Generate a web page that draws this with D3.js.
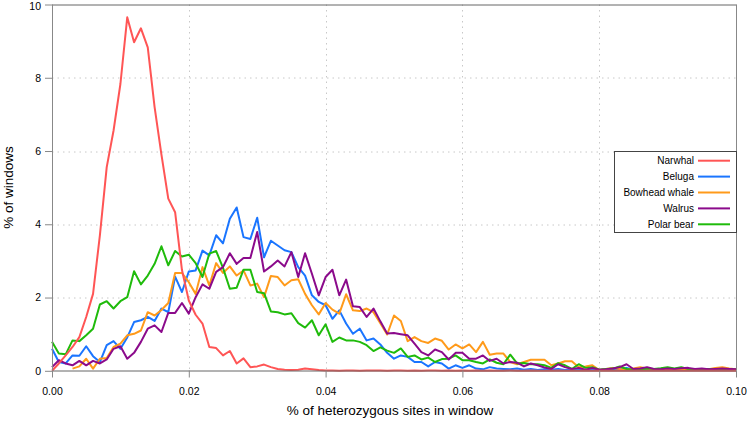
<!DOCTYPE html>
<html>
<head>
<meta charset="utf-8">
<script src="https://d3js.org/d3.v7.min.js"></script>
<style>
  body { margin: 0; background: #fff; }
  text { font-family: "Liberation Sans", Arial, sans-serif; fill: #000; }
</style>
</head>
<body>
<div id="chart"></div>
<script>
// bins of heterozygosity (% of sites), step 0.001
var bins = d3.range(0, 101).map(function(i) { return i / 1000; });

var species = ["Narwhal", "Beluga", "Bowhead whale", "Walrus", "Polar bear"];
var colors = ["#ff5555", "#1a75ff", "#ff9a1a", "#8b0a8b", "#1fbb0b"];

var narwhal = [0, 0.2, 0.42, 0.65, 0.92, 1.47, 2.1, 3.7, 5.56, 6.56,
  7.83, 9.65, 8.97, 9.35, 8.83, 7.2, 5.9, 4.7, 4.33, 2.75,
  1.92, 1.53, 1.29, 0.65, 0.62, 0.42, 0.54, 0.2, 0.34, 0.1,
  0.12, 0.17, 0.1, 0.05, 0.03, 0.02, 0.03, 0.06, 0.04, 0.02,
  0.01, 0.01, 0, 0.01, 0.01, 0, 0.01, 0.01, 0.01, 0,
  0.01, 0.01, 0, 0.01, 0, 0.01, 0.01, 0, 0.01, 0,
  0.01, 0, 0.01, 0, 0.01, 0, 0, 0.01, 0, 0,
  0.01, 0, 0, 0, 0.01, 0, 0, 0, 0, 0,
  0, 0, 0, 0, 0, 0, 0, 0, 0, 0,
  0, 0, 0, 0, 0, 0, 0, 0, 0, 0, 0];

var beluga = [0.6, 0.24, 0.2, 0.42, 0.41, 0.67, 0.4, 0.24, 0.7, 0.81,
  0.6, 0.91, 1.33, 1.38, 1.47, 1.36, 1.7, 1.6, 2.57, 2.15,
  2.71, 2.74, 3.28, 3.15, 3.7, 3.48, 4.15, 4.46, 3.65, 3.6,
  4.18, 3.1, 3.55, 3.42, 3.29, 3.24, 2.83, 2.6, 2.06, 1.88,
  1.79, 1.42, 1.65, 1.29, 1.01, 1.15, 0.83, 0.88, 0.72, 0.49,
  0.33, 0.42, 0.38, 0.24, 0.24, 0.12, 0.24, 0.2, 0.06, 0.15,
  0.08, 0.15, 0.06, 0.04, 0.1, 0.06, 0.05, 0.04, 0.06, 0.03,
  0.05, 0.02, 0.04, 0.03, 0.05, 0.02, 0.03, 0.04, 0.02, 0.03,
  0.02, 0.03, 0.02, 0.04, 0.08, 0.03, 0.02, 0.03, 0.02, 0.03,
  0.02, 0.03, 0.02, 0.02, 0.03, 0.02, 0.03, 0.02, 0.02, 0.03, 0.02];

var bowhead = [null, null, null, 0.06, 0.12, 0.33, 0.06, 0.33, 0.35, 0.65,
  0.74, 0.97, 1.01, 1.1, 1.6, 1.51, 1.66, 1.85, 2.67, 2.67,
  2.42, 2.1, 2.83, 2.33, 2.94, 2.67, 2.85, 2.6, 2.74, 2.33,
  2.38, 2.01, 2.59, 2.56, 2.33, 2.47, 2.5, 2.1, 1.79, 1.54,
  1.85, 1.67, 1.56, 2.09, 1.65, 1.63, 1.7, 1.6, 1.3, 0.99,
  1.51, 1.36, 0.81, 0.92, 0.81, 0.76, 0.88, 0.82, 0.58, 0.72,
  0.61, 0.72, 0.51, 0.79, 0.44, 0.47, 0.47, 0.24, 0.18, 0.24,
  0.3, 0.3, 0.3, 0.15, 0.2, 0.26, 0.26, 0.1, 0.12, 0.15,
  0.02, 0.05, 0.08, 0.05, 0.03, 0.06, 0.1, 0.06, 0.04, 0.03,
  0.05, 0.04, 0.02, 0.03, 0.05, 0.03, 0.04, 0.08, 0.1, 0.06, 0.04];

var walrus = [0.1, 0.29, 0.2, 0.15, 0.27, 0.15, 0.27, 0.2, 0.31, 0.6,
  0.67, 0.33, 0.49, 0.79, 1.15, 1.24, 1.06, 1.58, 1.58, 1.85,
  1.56, 2.01, 2.36, 2.24, 2.7, 2.83, 3.21, 2.92, 3.08, 3.08,
  3.79, 2.71, 2.85, 3.01, 2.85, 3.24, 2.56, 3.21, 2.65, 2.06,
  2.56, 2.76, 2.06, 2.49, 1.76, 1.74, 1.47, 1.7, 1.35, 1.02,
  1.03, 1.0, 0.97, 0.74, 0.51, 0.42, 0.58, 0.51, 0.31, 0.49,
  0.49, 0.33, 0.33, 0.42, 0.27, 0.33, 0.2, 0.24, 0.22, 0.12,
  0.2, 0.15, 0.09, 0.05, 0.18, 0.1, 0.05, 0.08, 0.03, 0.08,
  0.03, 0.04, 0.06, 0.1, 0.18, 0.05, 0.06, 0.1, 0.05, 0.04,
  0.06, 0.05, 0.07, 0.08, 0.05, 0.06, 0.04, 0.05, 0.06, 0.05, 0.04];

var polarBear = [0.79, 0.47, 0.45, 0.83, 0.81, 0.97, 1.15, 1.81, 1.9, 1.7,
  1.9, 2.01, 2.72, 2.36, 2.6, 2.92, 3.4, 2.88, 3.27, 3.12,
  3.17, 2.94, 2.56, 3.2, 3.27, 2.81, 2.24, 2.27, 2.76, 2.76,
  2.15, 2.12, 1.62, 1.6, 1.54, 1.57, 1.3, 1.18, 1.38, 0.97,
  1.27, 0.79, 0.91, 0.83, 0.83, 0.79, 0.7, 0.54, 0.64, 0.55,
  0.49, 0.61, 0.38, 0.42, 0.31, 0.36, 0.24, 0.32, 0.33, 0.42,
  0.29, 0.29, 0.24, 0.2, 0.31, 0.22, 0.18, 0.44, 0.2, 0.21,
  0.18, 0.18, 0.15, 0.08, 0.21, 0.15, 0.05, 0.18, 0.08, 0.1,
  0.03, 0.05, 0.06, 0.12, 0.05, 0.03, 0.04, 0.06, 0.05, 0.07,
  0.1, 0.06, 0.1, 0.05, 0.03, 0.04, 0.05, 0.03, 0.04, 0.05, 0.03];

var xTicks = [0, 0.02, 0.04, 0.06, 0.08, 0.10];
var yTicks = [0, 2, 4, 6, 8, 10];

var series = [narwhal, beluga, bowhead, walrus, polarBear];
// drawing order (last one on top)
var drawOrder = [1, 2, 4, 3, 0];

var margin = {top: 4.5, right: 11, bottom: 51.5, left: 52}
  , width = 747 - margin.left - margin.right
  , height = 422 - margin.top - margin.bottom;

var x = d3.scaleLinear().domain([0, 0.1]).range([0, width]);
var y = d3.scaleLinear().domain([0, 10]).range([height + 0.3, 0]);

var svg = d3.select("#chart").append("svg")
  .attr("width", 747)
  .attr("height", 422);

var main = svg.append("g")
  .attr("transform", "translate(" + margin.left + "," + margin.top + ")");

// dotted grid
main.append("g").selectAll("line")
  .data(xTicks.slice(1, -1))
  .enter().append("line")
    .attr("x1", function(d) { return Math.round(x(d)) + 0.5; })
    .attr("x2", function(d) { return Math.round(x(d)) + 0.5; })
    .attr("y1", 0)
    .attr("y2", height)
    .attr("stroke", "#c8c8c8")
    .attr("stroke-dasharray", "1.5,4");

main.append("g").selectAll("line")
  .data(yTicks.slice(1, -1))
  .enter().append("line")
    .attr("x1", 0)
    .attr("x2", width)
    .attr("y1", function(d) { return Math.round(y(d)) + 0.5; })
    .attr("y2", function(d) { return Math.round(y(d)) + 0.5; })
    .attr("stroke", "#c8c8c8")
    .attr("stroke-dasharray", "1.5,4");

// lines
var line = d3.line()
  .defined(function(d) { return d.v !== null; })
  .x(function(d) { return x(d.x); })
  .y(function(d) { return y(d.v); });

drawOrder.forEach(function(k) {
  var pts = bins.map(function(b, i) { return {x: b, v: series[k][i]}; });
  main.append("path")
    .datum(pts)
    .attr("fill", "none")
    .attr("stroke", colors[k])
    .attr("stroke-width", 2)
    .attr("stroke-linejoin", "round")
    .attr("d", line);
});

// frame: top and right lines
main.append("line")
  .attr("x1", 0).attr("x2", width + 0.5)
  .attr("y1", 0.5).attr("y2", 0.5)
  .attr("stroke", "#666");
main.append("line")
  .attr("x1", width + 0.5).attr("x2", width + 0.5)
  .attr("y1", 0).attr("y2", height)
  .attr("stroke", "#888");

// x axis
var xAxis = main.append("g")
  .attr("transform", "translate(0," + height + ")")
  .call(d3.axisBottom(x).tickValues(xTicks).tickSize(7).tickPadding(10)
    .tickFormat(d3.format(".2f")));
xAxis.select(".domain").attr("stroke", "#666").attr("d", "M0.5,0.5H" + (width + 0.5));
xAxis.selectAll(".tick line").attr("stroke", "#888");
xAxis.selectAll("text").attr("font-size", "10.5px").style("font-family", "Liberation Sans, Arial, sans-serif");

// y axis
var yAxis = main.append("g")
  .call(d3.axisLeft(y).tickValues(yTicks).tickSize(7).tickPadding(4));
yAxis.select(".domain").attr("stroke", "#888").attr("d", "M0.5,0V" + height);
yAxis.selectAll(".tick line").attr("stroke", "#888");
yAxis.selectAll("text").attr("font-size", "10.5px").style("font-family", "Liberation Sans, Arial, sans-serif");
// keep the top label inside the picture
yAxis.selectAll(".tick text").filter(function(d) { return d === 10; }).attr("dy", "0.45em");

// axis titles
main.append("text")
  .attr("x", width / 2 - 4)
  .attr("y", height + 44)
  .style("text-anchor", "middle")
  .attr("font-size", "13.5px")
  .text("% of heterozygous sites in window");

main.append("text")
  .attr("transform", "rotate(-90)")
  .attr("x", -height / 2)
  .attr("y", -39)
  .style("text-anchor", "middle")
  .attr("font-size", "13.5px")
  .text("% of windows");

// legend
var legend = svg.append("g");
legend.append("rect")
  .attr("x", 614.5)
  .attr("y", 151.5)
  .attr("width", 122)
  .attr("height", 81)
  .attr("fill", "#fff")
  .attr("stroke", "#444");

var rowY = d3.scalePoint().domain(species).range([160.7, 224.3]);

legend.selectAll("g.item")
  .data(species)
  .enter().append("g")
    .attr("class", "item")
    .each(function(d, i) {
      var g = d3.select(this);
      g.append("text")
        .attr("x", 694)
        .attr("y", rowY(d))
        .attr("dy", "0.35em")
        .style("text-anchor", "end")
        .attr("font-size", "10px")
        .text(d);
      g.append("line")
        .attr("x1", 698).attr("x2", 730)
        .attr("y1", rowY(d)).attr("y2", rowY(d))
        .attr("stroke", colors[i])
        .attr("stroke-width", 2);
    });
</script>
</body>
</html>
